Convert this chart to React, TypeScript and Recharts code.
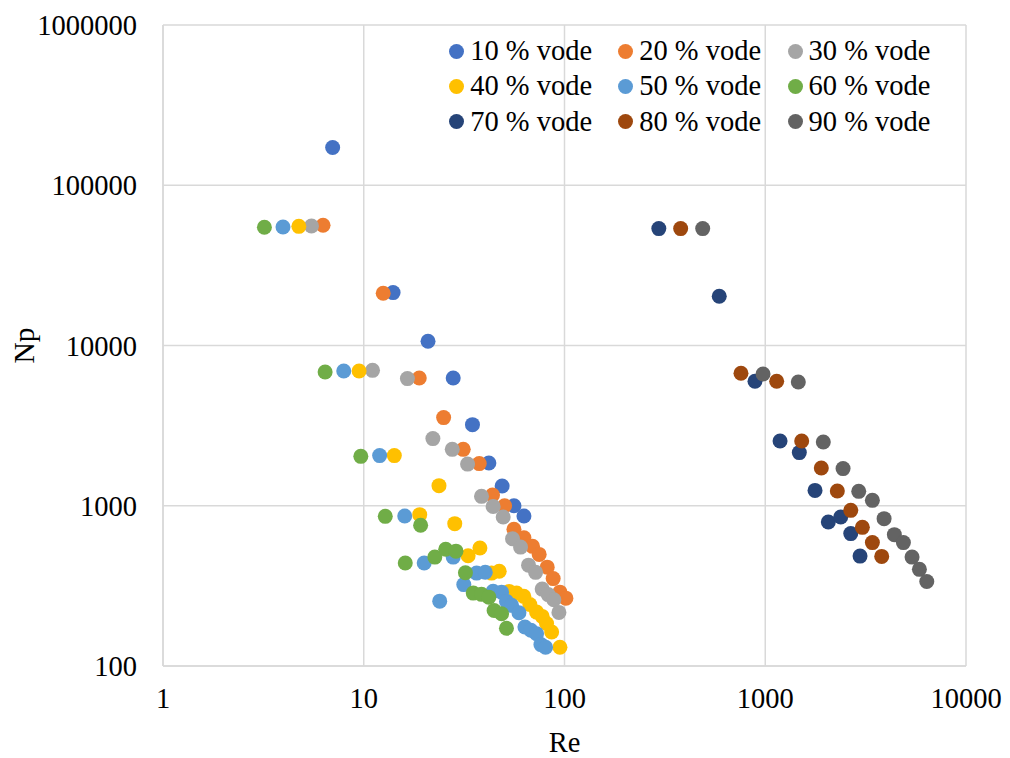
import React from 'react';
import { ScatterChart, Scatter, XAxis, YAxis, CartesianGrid, Legend } from 'recharts';

const FONT = '"Liberation Serif", "Times New Roman", serif';

const seriesNames = ['10 % vode', '20 % vode', '30 % vode', '40 % vode', '50 % vode', '60 % vode', '70 % vode', '80 % vode', '90 % vode'];
const seriesColors = ['#4472C4', '#ED7D31', '#A5A5A5', '#FFC000', '#5B9BD5', '#70AD47', '#264478', '#9E480E', '#636363'];

const xTicks = [1, 10, 100, 1000, 10000];
const yTicks = [100, 1000, 10000, 100000, 1000000];

const re10 = [7.0, 14.0, 20.9, 27.9, 34.8, 42.0, 48.9, 56.0, 62.8];
const np10 = [171900, 21380, 10620, 6270, 3208, 1847, 1327, 1001, 863];

const re20 = [6.27, 12.5, 18.9, 25.0, 31.3, 37.6, 43.8, 50.3, 56.0, 62.8, 69.3, 74.8, 82.0, 87.8, 94.9, 101.6];
const np20 = [56260, 21200, 6270, 3548, 2249, 1832, 1166, 1001, 713, 632, 558, 497, 414, 351, 289, 265];

const re30 = [5.49, 11.06, 16.5, 22.1, 27.6, 32.9, 38.6, 44.1, 49.5, 55.1, 60.4, 66.2, 71.8, 77.4, 82.9, 88.5, 93.8];
const np30 = [55700, 7000, 6215, 2624, 2249, 1820, 1145, 991, 850, 623, 552, 426, 384, 302, 279, 259, 216];

const re40 = [4.75, 9.48, 14.2, 19.0, 23.7, 28.4, 33.1, 37.9, 43.3, 47.3, 53.0, 57.7, 62.7, 67.2, 72.6, 77.4, 81.4, 86.3, 94.9];
const np40 = [55400, 6930, 2055, 880, 1335, 773, 488, 545, 380, 390, 292, 285, 272, 242, 217, 204, 184, 163, 131];

const re50 = [3.96, 7.95, 12.0, 16.0, 20.0, 23.9, 27.9, 31.5, 36.5, 40.3, 44.1, 48.6, 51.4, 54.5, 59.3, 63.5, 68.0, 72.6, 76.3, 80.5];
const np50 = [54900, 6930, 2055, 863, 439, 254, 478, 322, 380, 385, 293, 289, 253, 239, 215, 175, 167, 159, 136, 131];

const re60 = [3.2, 6.42, 9.67, 12.8, 16.1, 19.2, 22.6, 25.6, 28.8, 32.1, 35.1, 38.6, 42.0, 44.6, 48.6, 51.4];
const np60 = [54700, 6833, 2034, 859, 439, 755, 478, 535, 521, 382, 285, 280, 269, 222, 212, 172];

const re70 = [295, 590, 889, 1185, 1478, 1770, 2062, 2377, 2667, 2966];
const np70 = [53660, 20280, 5977, 2535, 2146, 1247, 791, 850, 670, 485];

const re80 = [379, 757, 1140, 1519, 1902, 2286, 2667, 3046, 3417, 3803];
const np80 = [53660, 6707, 5977, 2535, 1719, 1236, 936, 733, 589, 483];

const re90 = [488, 975, 1461, 1946, 2441, 2922, 3417, 3908, 4397, 4877, 5386, 5860, 6377];
const np90 = [53660, 6640, 5917, 2500, 1705, 1230, 1081, 831, 660, 589, 478, 401, 337];

const reSets = [re10, re20, re30, re40, re50, re60, re70, re80, re90];
const npSets = [np10, np20, np30, np40, np50, np60, np70, np80, np90];

const seriesData = reSets.map((res, i) => res.map((re, j) => ({ re, np: npSets[i][j] })));

const legendMarkerX = [456.7, 625.7, 795];
const legendRowY = [51, 86, 121.7];

const renderLegend = () => (
  <div style={{ position: 'relative', width: 1010, height: 0 }}>
    {seriesNames.map((name, i) => {
      const col = i % 3;
      const row = Math.floor(i / 3);
      return (
        <div
          key={name}
          style={{
            position: 'absolute',
            left: legendMarkerX[col] - 7.5,
            top: legendRowY[row] - 17,
            height: 34,
            display: 'flex',
            alignItems: 'center',
            whiteSpace: 'nowrap',
          }}
        >
          <span
            style={{
              display: 'inline-block',
              width: 15,
              height: 15,
              borderRadius: '50%',
              background: seriesColors[i],
              marginRight: 6,
            }}
          />
          <span style={{ fontFamily: FONT, fontSize: 28.5, lineHeight: '34px', color: '#000' }}>{name}</span>
        </div>
      );
    })}
  </div>
);

const tickStyle = { fill: '#000', fontSize: 28.5, fontFamily: FONT };

const makeDot = (color: string) => (props: any) => {
  const { cx, cy } = props;
  if (cx == null || cy == null) return <g />;
  return <circle cx={cx} cy={cy} r={7.5} fill={color} />;
};

export default function App() {
  return (
    <div style={{ position: 'absolute', left: 0, top: 0, width: 1010, height: 758, background: '#fff', fontFamily: FONT }}>
      <ScatterChart width={1010} height={758} margin={{ top: 25, right: 44, left: 63, bottom: 0 }} style={{ fontFamily: FONT }}>
        <CartesianGrid stroke="#d9d9d9" strokeWidth={1.5} />
        <XAxis
          type="number"
          dataKey="re"
          scale="log"
          domain={[1, 10000]}
          ticks={xTicks}
          allowDataOverflow
          height={92}
          tickSize={0}
          tickMargin={22}
          tickLine={false}
          axisLine={{ stroke: '#d9d9d9', strokeWidth: 1.5 }}
          tick={tickStyle}
          label={(props: any) => {
            const vb = props.viewBox || { x: 163, y: 666, width: 803, height: 92 };
            return (
              <text x={vb.x + vb.width / 2} y={751.5} textAnchor="middle" fontFamily={FONT} fontSize={28.5} fill="#000">
                Re
              </text>
            );
          }}
        />
        <YAxis
          type="number"
          dataKey="np"
          scale="log"
          domain={[100, 1000000]}
          ticks={yTicks}
          allowDataOverflow
          width={100}
          tickSize={0}
          tickMargin={26}
          tickLine={false}
          axisLine={{ stroke: '#d9d9d9', strokeWidth: 1.5 }}
          tick={tickStyle}
          label={(props: any) => {
            const vb = props.viewBox || { x: 63, y: 25, width: 100, height: 641 };
            const cy = vb.y + vb.height / 2;
            return (
              <text
                x={33.5}
                y={cy}
                transform={`rotate(-90, 33.5, ${cy})`}
                textAnchor="middle"
                fontFamily={FONT}
                fontSize={29.5}
                fill="#000"
              >
                Np
              </text>
            );
          }}
        />
        <Legend
          layout="horizontal"
          verticalAlign="middle"
          align="center"
          wrapperStyle={{ left: 0, top: 0, width: 1010, height: 0 }}
          content={renderLegend}
        />
        {seriesData.map((d, i) => (
          <Scatter
            key={seriesNames[i]}
            name={seriesNames[i]}
            data={d}
            fill={seriesColors[i]}
            shape={makeDot(seriesColors[i])}
            isAnimationActive={false}
          />
        ))}
      </ScatterChart>
    </div>
  );
}
